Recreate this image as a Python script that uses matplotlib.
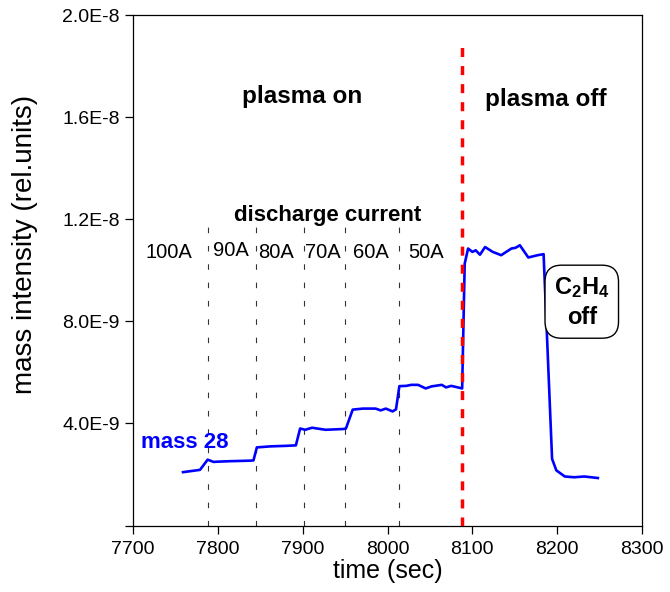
import matplotlib
matplotlib.use("Agg")
import matplotlib.pyplot as plt
import numpy as np

plt.rcParams['font.family'] = ['Liberation Sans', 'DejaVu Sans']
plt.rcParams['mathtext.fontset'] = 'custom'
plt.rcParams['mathtext.rm'] = 'Liberation Sans'
plt.rcParams['mathtext.bf'] = 'Liberation Sans:bold'

# ---- data ----
time_sec = [7759, 7779, 7788, 7795, 7799, 7815, 7838, 7842, 7846, 7862, 7880, 7892,
            7897, 7903, 7911, 7927, 7948, 7951, 7959, 7971, 7986, 7992, 7998, 8006,
            8010, 8014, 8022, 8028, 8036, 8045, 8052, 8064, 8069, 8075, 8083, 8088,
            8091, 8095, 8100, 8104, 8109, 8115, 8124, 8134, 8146, 8151, 8156, 8166,
            8177, 8184, 8194, 8199, 8209, 8220, 8232, 8248]
mass28 = [2.09, 2.18, 2.58, 2.49, 2.50, 2.52, 2.54, 2.55, 3.06, 3.10, 3.12, 3.14,
          3.80, 3.75, 3.83, 3.75, 3.78, 3.80, 4.54, 4.58, 4.58, 4.51, 4.58, 4.47,
          4.55, 5.46, 5.47, 5.51, 5.51, 5.37, 5.45, 5.51, 5.41, 5.47, 5.41, 5.37,
          10.26, 10.85, 10.72, 10.78, 10.61, 10.91, 10.72, 10.59, 10.85, 10.88, 10.98, 10.50,
          10.59, 10.63, 2.61, 2.16, 1.92, 1.89, 1.92, 1.86]
mass28 = [v * 1e-9 for v in mass28]

current_bounds = [7788, 7845, 7901, 7950, 8013]
current_labels = ["100A", "90A", "80A", "70A", "60A", "50A"]
current_label_x = [7742, 7815, 7869, 7924, 7980, 8046]
plasma_off_time = 8088

xticks = [7700, 7800, 7900, 8000, 8100, 8200, 8300]
yticks = [0, 4e-9, 8e-9, 1.2e-8, 1.6e-8, 2.0e-8]
ytick_labels = ["", "4.0E-9", "8.0E-9", "1.2E-8", "1.6E-8", "2.0E-8"]

# ---- figure ----
fig = plt.figure(figsize=(6.7, 5.92), dpi=100)
ax = fig.add_axes([133 / 670, 1 - 525.5 / 592, (642 - 133) / 670, (525.5 - 15) / 592])

ax.set_xlim(7700, 8300)
ax.set_ylim(0, 2.0e-8)

for xb in current_bounds:
    ax.plot([xb, xb], [0, 11.7e-9], color='#333333', lw=0.8, ls=(0, (5, 11.5)), zorder=1)

ax.plot([plasma_off_time, plasma_off_time], [0, 18.95e-9], color='#ff0000', lw=2.5,
        ls=(0, (2.6, 2.6)), zorder=3)

ax.plot(time_sec, mass28, color='#0000ff', lw=1.9, zorder=2)

ax.set_xticks(xticks)
ax.set_xticklabels([str(t) for t in xticks])
ax.set_yticks(yticks)
ax.set_yticklabels(ytick_labels)
ax.tick_params(axis='both', which='both', direction='out', length=6, width=0.9,
               labelsize=14, top=False, right=False, colors='black')
ax.tick_params(axis='x', pad=5)
for s in ax.spines.values():
    s.set_linewidth(0.9)

ax.set_xlabel("time (sec)", fontsize=18, labelpad=1)
ax.set_ylabel("mass intensity (rel.units)", fontsize=20)
ax.yaxis.set_label_coords(-0.186, 0.55)

ax.text(7899, 16.8e-9, "plasma on", fontsize=17.5, fontweight='bold', ha='center', va='center')
ax.text(8187, 16.7e-9, "plasma off", fontsize=17.5, fontweight='bold', ha='center', va='center')
ax.text(7930, 12.16e-9, "discharge current", fontsize=16, fontweight='bold', ha='center', va='center')
for lab, xl in zip(current_labels, current_label_x):
    yl = 10.79e-9 if lab == "90A" else 10.7e-9
    ax.text(xl, yl, lab, fontsize=14.5, ha='center', va='center')

ax.text(7761, 3.27e-9, "mass 28", fontsize=16, fontweight='bold', color='#0000ff',
        ha='center', va='center')

ax.text(8229, 8.75e-9, r"$\mathbf{C_2H_4}$" + "\noff", fontsize=17, fontweight='bold',
        ha='center', va='center', linespacing=1.35,
        bbox=dict(boxstyle='round,pad=0.38,rounding_size=0.7', fc='white', ec='black', lw=1.0))

fig.savefig("out.png", dpi=100)
